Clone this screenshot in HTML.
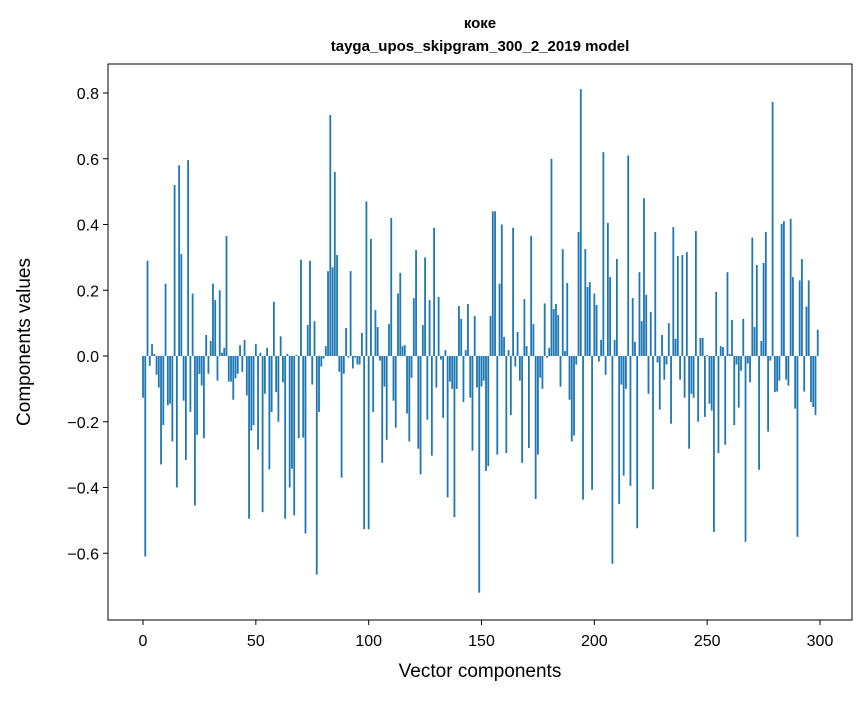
<!DOCTYPE html>
<html><head><meta charset="utf-8"><style>
body{margin:0;background:#fff;font-family:"Liberation Sans","DejaVu Sans",sans-serif;}
svg text{font-family:"Liberation Sans","DejaVu Sans",sans-serif;fill:#000;}
</style></head><body>
<svg id="chart" width="867" height="696" xmlns="http://www.w3.org/2000/svg">
<rect width="867" height="696" fill="#fff"/>
<text x="480" y="28" font-size="15" font-weight="bold" text-anchor="middle">коке</text>
<text x="480" y="51" font-size="15" font-weight="bold" text-anchor="middle">tayga_upos_skipgram_300_2_2019 model</text>
<g id="bars"></g>
<g id="xticks"></g>
<g id="yticks"></g>
<rect x="108" y="64" width="744" height="556" fill="none" stroke="#000" stroke-width="1"/>
<text x="480" y="677" font-size="19" text-anchor="middle">Vector components</text>
<text transform="translate(30,342) rotate(-90)" font-size="19" text-anchor="middle">Components values</text>
</svg>
<script>
const values = [
-0.127,-0.61,0.29,-0.03,0.036,0.006,-0.057,-0.096,-0.33,-0.21,
0.22,-0.15,-0.145,-0.26,0.52,-0.40,0.58,0.31,-0.136,-0.316,
0.596,-0.17,0.19,-0.455,-0.24,-0.055,-0.09,-0.25,0.064,-0.054,
0.046,0.22,0.17,-0.075,0.2,0.01,0.025,0.365,-0.078,-0.078,
-0.133,-0.068,-0.054,0.033,-0.048,0.049,-0.12,-0.495,-0.227,-0.21,
0.036,-0.285,0.01,-0.475,-0.115,0.025,-0.345,-0.17,0.165,-0.11,
-0.2,0.06,-0.08,-0.495,0.006,-0.4,-0.343,-0.485,0.003,-0.25,
0.293,-0.248,-0.54,0.094,0.29,-0.087,0.106,-0.665,-0.17,-0.032,
-0.008,0.03,0.258,0.733,0.27,0.56,0.307,-0.048,-0.37,-0.054,
0.085,-0.005,0.258,-0.038,-0.005,-0.026,-0.026,0.07,-0.527,0.47,
-0.527,0.356,-0.17,0.14,0.088,-0.014,-0.325,-0.093,-0.255,0.097,
0.42,-0.136,-0.218,0.19,0.253,0.03,0.033,-0.175,-0.26,-0.066,
0.176,0.322,-0.282,-0.36,0.094,0.3,-0.194,0.17,-0.303,0.39,
-0.096,0.18,-0.011,-0.188,0.018,-0.43,-0.078,-0.1,-0.49,-0.1,
0.152,0.113,-0.14,0.018,0.158,-0.127,-0.288,0.122,-0.096,-0.72,
-0.093,-0.075,-0.35,-0.335,0.122,0.44,0.44,-0.3,0.22,0.4,
0.058,-0.295,0.018,-0.18,0.39,-0.032,0.073,-0.075,-0.325,0.173,
0.03,-0.28,0.365,0.097,-0.435,-0.3,-0.066,-0.1,0.16,-0.005,
0.025,0.6,0.143,0.158,0.125,-0.093,0.325,0.015,0.222,-0.133,
-0.26,-0.242,-0.026,0.377,0.812,-0.437,0.325,0.21,0.225,-0.407,
0.19,0.155,-0.017,0.049,0.62,-0.057,0.405,0.24,-0.632,0.049,
0.295,-0.45,-0.087,-0.364,-0.1,0.61,-0.395,0.176,0.043,-0.524,
0.255,0.106,0.48,0.186,-0.115,0.134,-0.405,0.377,-0.02,-0.163,
0.064,-0.072,-0.026,0.1,-0.206,0.392,0.052,0.304,-0.072,0.307,
-0.127,0.316,-0.282,-0.115,-0.127,0.38,-0.2,0.055,0.055,-0.185,
0.003,-0.145,-0.166,-0.535,0.195,-0.295,0.03,0.027,-0.27,0.255,
0.006,0.11,-0.21,-0.026,-0.157,-0.045,0.113,-0.565,-0.023,-0.08,
0.36,0.088,0.277,-0.346,0.046,0.283,0.377,-0.23,-0.014,0.773,
-0.11,-0.108,-0.075,0.402,0.41,-0.072,-0.09,0.417,0.24,-0.16,
-0.55,0.23,0.295,-0.108,0.15,0.23,-0.14,-0.155,-0.18,0.08
];
const xTickValues = [0,50,100,150,200,250,300];
const yTickValues = [-0.6,-0.4,-0.2,0.0,0.2,0.4,0.6,0.8];
const yTickLabels = ["\u22120.6","\u22120.4","\u22120.2","0.0","0.2","0.4","0.6","0.8"];

const NS="http://www.w3.org/2000/svg";
const xScale = v => 143 + v*(820-143)/300;
const yScale = v => 356 - v*328.75;
const barsG=document.getElementById('bars');
values.forEach((v,i)=>{
  const r=document.createElementNS(NS,'rect');
  const x0=xScale(i-0.4), x1=xScale(i+0.4);
  const y0=Math.min(yScale(0),yScale(v)), h=Math.abs(yScale(v)-yScale(0));
  r.setAttribute('x',x0);r.setAttribute('width',x1-x0);
  r.setAttribute('y',y0);r.setAttribute('height',h);
  r.setAttribute('fill','#1f77b4');
  
  
  barsG.appendChild(r);
});
const xg=document.getElementById('xticks');
xTickValues.forEach(t=>{
  const x=xScale(t);
  const l=document.createElementNS(NS,'line');
  l.setAttribute('x1',x);l.setAttribute('x2',x);l.setAttribute('y1',620);l.setAttribute('y2',625);
  l.setAttribute('stroke','#000');
  
  
  xg.appendChild(l);
  const tx=document.createElementNS(NS,'text');
  tx.setAttribute('x',x);tx.setAttribute('y',646);tx.setAttribute('font-size','16');tx.setAttribute('text-anchor','middle');
  tx.textContent=t;
  
  
  xg.appendChild(tx);
});
const yg=document.getElementById('yticks');
yTickValues.forEach((t,i)=>{
  const y=yScale(t);
  const l=document.createElementNS(NS,'line');
  l.setAttribute('x1',103);l.setAttribute('x2',108);l.setAttribute('y1',y);l.setAttribute('y2',y);
  l.setAttribute('stroke','#000');
  
  
  yg.appendChild(l);
  const tx=document.createElementNS(NS,'text');
  tx.setAttribute('x',99);tx.setAttribute('y',y+6);tx.setAttribute('font-size','16');tx.setAttribute('text-anchor','end');
  tx.textContent=yTickLabels[i];
  
  
  yg.appendChild(tx);
});
</script>
</body></html>
